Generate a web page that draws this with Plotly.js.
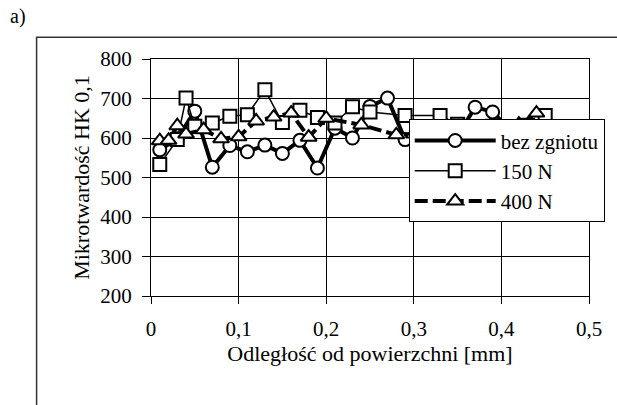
<!DOCTYPE html>
<html>
<head>
<meta charset="utf-8">
<script src="https://cdn.plot.ly/plotly-3.0.1.min.js"></script>
<style>html,body{margin:0;padding:0;background:#fff;}#chart{width:617px;height:405px;}</style>
</head>
<body>
<div id="chart"></div>
<script>
// Series names
var seriesNames = ["bez zgniotu", "150 N", "400 N"];

// bez zgniotu (circles)
var xBez = [0.01,0.03,0.05,0.07,0.09,0.11,0.13,0.15,0.17,0.19,0.21,0.23,0.25,0.27,0.29,0.31,0.33,0.35,0.37,0.39,0.41,0.43,0.45];
var yBez = [570,598,668,526,581,565,582,561,594,524,625,600,680,701,596,600,605,605,678,666,620,625,630];

// 150 N (squares)
var x150 = [0.01,0.03,0.04,0.05,0.07,0.09,0.11,0.13,0.15,0.17,0.19,0.21,0.23,0.25,0.29,0.33,0.35,0.37,0.39,0.41,0.43,0.45];
var y150 = [533,596,701,630,638,655,659,722,639,670,652,638,679,666,657,657,635,625,630,628,632,657];

// 400 N (triangles)
var x400 = [0.01,0.02,0.03,0.04,0.06,0.08,0.10,0.12,0.14,0.16,0.18,0.20,0.24,0.28,0.30,0.32,0.34,0.36,0.38,0.40,0.42,0.44];
var y400 = [593,594,631,610,621,598,603,643,653,663,602,650,633,608,610,615,615,620,618,625,635,663];

// Axis ticks
var xTicks = [0,0.1,0.2,0.3,0.4,0.5];
var yTicks = [200,300,400,500,600,700,800];

var FONT = "Liberation Serif";

var traces = [
  {x: xBez, y: yBez, name: seriesNames[0], legendgroup: "a", mode: "lines+markers", type: "scatter",
   line: {color: "#000", width: 4},
   marker: {symbol: "circle", size: 13, color: "#fff", line: {color: "#000", width: 2}}},
  {x: x150, y: y150, name: seriesNames[1], legendgroup: "b", mode: "lines+markers", type: "scatter",
   line: {color: "#000", width: 1.5},
   marker: {symbol: "square", size: 13, color: "#fff", line: {color: "#000", width: 2}}},
  {x: x400, y: y400, name: seriesNames[2], legendgroup: "c", mode: "lines+markers", type: "scatter",
   line: {color: "#000", width: 4, dash: "13px,5px"},
   marker: {symbol: "triangle-up", size: 14, color: "#fff", line: {color: "#000", width: 2}}}
];

var plotL = 151, plotT = 59, plotW = 438, plotH = 237;
function px2paperX(p){ return (p - plotL) / plotW; }
function px2paperY(p){ return 1 - (p - plotT) / plotH; }

var layout = {
  width: 617, height: 405,
  margin: {l: plotL, r: 617 - plotL - plotW, t: plotT, b: 405 - plotT - plotH, pad: 0},
  paper_bgcolor: "#fff", plot_bgcolor: "#fff",
  font: {family: FONT, size: 21, color: "#000"},
  separators: ", ",
  showlegend: true,
  xaxis: {
    range: [0, 0.5], tickvals: xTicks, ticks: "outside", ticklen: 7, tickcolor: "#000",
    showline: true, linecolor: "#000", linewidth: 1, mirror: true,
    showgrid: true, gridcolor: "#000", gridwidth: 1, zeroline: false,
    ticklabelstandoff: 7,
    title: {text: "Odległość od powierzchni [mm]", font: {family: FONT, size: 22}, standoff: 5}
  },
  yaxis: {
    range: [200, 800], tickvals: yTicks, ticks: "outside", ticklen: 8, tickcolor: "#000",
    showline: true, linecolor: "#000", linewidth: 1, mirror: true,
    showgrid: true, gridcolor: "#000", gridwidth: 1, zeroline: false,
    ticklabelstandoff: 6,
    title: {text: "Mikrotwardość HK 0,1", font: {family: FONT, size: 22}, standoff: 4}
  },
  legend: {
    x: px2paperX(408.7), y: px2paperY(119.3), xanchor: "left", yanchor: "top",
    bgcolor: "#fff", bordercolor: "#000", borderwidth: 1,
    font: {family: FONT, size: 21}, itemwidth: 81, tracegroupgap: 3,
    traceorder: "normal"
  },
  shapes: [
    {type: "path", xref: "paper", yref: "paper",
     path: "M " + px2paperX(36.6) + " " + px2paperY(420) + " L " + px2paperX(36.6) + " " + px2paperY(37.3) + " L " + px2paperX(640) + " " + px2paperY(37.3),
     line: {color: "#333", width: 1.5}}
  ],
  annotations: [
    {text: "a)", xref: "paper", yref: "paper", x: px2paperX(8), y: px2paperY(17),
     xanchor: "left", yanchor: "middle", showarrow: false, font: {family: FONT, size: 20, color: "#000"}}
  ]
};

Plotly.newPlot("chart", traces, layout, {displayModeBar: false, staticPlot: true});
</script>
</body>
</html>
